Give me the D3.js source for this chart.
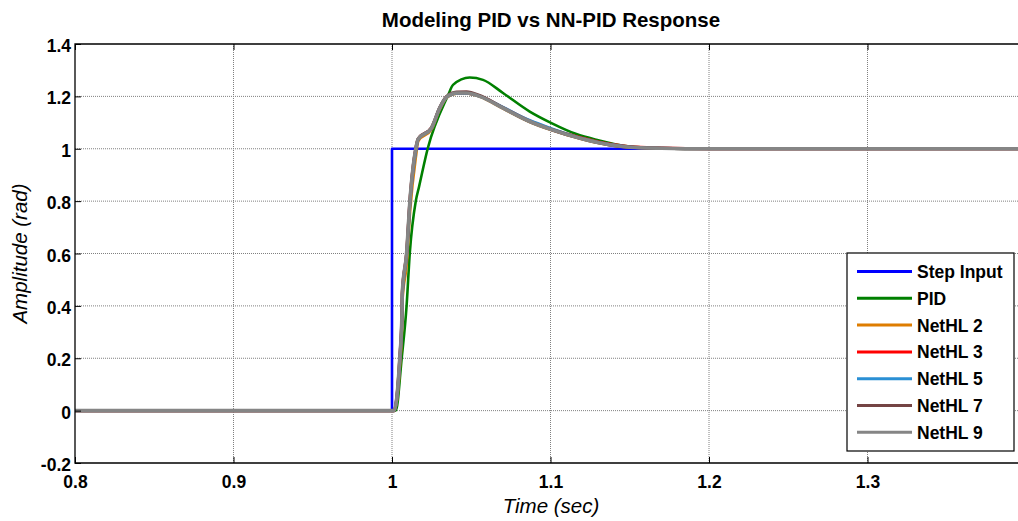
<!DOCTYPE html>
<html>
<head>
<meta charset="utf-8">
<script src="https://cdn.jsdelivr.net/npm/d3@7"></script>
<style>
  body { margin: 0; background: #fff; }
  svg { display: block; font-family: "Liberation Sans", Arial, sans-serif; }
</style>
</head>
<body>
<svg id="chart" width="1018" height="521"></svg>
<script>
// data
var xTicks = [0.8, 0.9, 1.0, 1.1, 1.2, 1.3];
var yTicks = [-0.2, 0, 0.2, 0.4, 0.6, 0.8, 1.0, 1.2, 1.4];

var stepT = [0.8, 1.0, 1.0, 1.4];
var stepY = [0, 0, 1, 1];

var pidT = [0.8, 1.0, 1.0024, 1.0061, 1.0092, 1.0112, 1.015, 1.0171, 1.0225, 1.0353, 1.0385, 1.049, 1.0574, 1.070, 1.0869, 1.1006, 1.1163, 1.129, 1.15, 1.17, 1.19, 1.4];
var pidY = [0, 0, 0, 0.2, 0.4, 0.6, 0.8, 0.856, 1.0, 1.203, 1.244, 1.272, 1.263, 1.213, 1.142, 1.098, 1.056, 1.034, 1.008, 1.002, 1.0, 1.0];

var nnT = [0.8, 1.0, 1.0013, 1.0049, 1.0063, 1.0065, 1.0092, 1.0113, 1.015, 1.0165, 1.0249, 1.0301, 1.0344, 1.0407, 1.047, 1.0554, 1.0701, 1.0869, 1.1006, 1.1205, 1.1373, 1.15, 1.17, 1.2, 1.4];
var net2Y = [0, 0, 0, 0.17, 0.33, 0.42, 0.56, 0.76, 0.97, 1.03, 1.074, 1.152, 1.195, 1.211, 1.212, 1.199, 1.154, 1.103, 1.072, 1.036, 1.014, 1.006, 1.002, 1.0, 1.0];
var net3Y = [0, 0, 0, 0.2, 0.37, 0.45, 0.6, 0.8, 1.0, 1.037, 1.08, 1.156, 1.198, 1.213, 1.213, 1.201, 1.157, 1.106, 1.075, 1.04, 1.018, 1.008, 1.003, 1.0, 1.0];
var net5Y = [0, 0, 0, 0.19, 0.36, 0.44, 0.59, 0.79, 0.99, 1.036, 1.078, 1.156, 1.197, 1.212, 1.212, 1.2, 1.158, 1.108, 1.077, 1.038, 1.016, 1.007, 1.002, 1.0, 1.0];
var net7Y = [0, 0, 0, 0.2, 0.37, 0.45, 0.6, 0.8, 1.0, 1.038, 1.08, 1.157, 1.2, 1.216, 1.217, 1.203, 1.156, 1.104, 1.073, 1.037, 1.015, 1.006, 1.002, 1.0, 1.0];
var net9Y = [0, 0, 0, 0.2, 0.37, 0.45, 0.6, 0.8, 1.0, 1.037, 1.079, 1.155, 1.197, 1.213, 1.213, 1.2, 1.155, 1.104, 1.073, 1.037, 1.015, 1.006, 1.002, 1.0, 1.0];

var seriesNames = ['Step Input', 'PID', 'NetHL 2', 'NetHL 3', 'NetHL 5', 'NetHL 7', 'NetHL 9'];
var seriesColors = ['#0000ff', '#008000', '#de7d00', '#ff0000', '#2a8fd4', '#744444', '#858585'];
var seriesWidths = [2.6, 2.6, 3, 3, 3, 3.2, 3.6];

function zip(t, v) {
    return t.map(function (d, i) { return [d, v[i]]; });
}

var series = [
    { pts: zip(stepT, stepY), curve: d3.curveLinear },
    { pts: zip(pidT, pidY), curve: d3.curveMonotoneX },
    { pts: zip(nnT, net2Y), curve: d3.curveMonotoneX },
    { pts: zip(nnT, net3Y), curve: d3.curveMonotoneX },
    { pts: zip(nnT, net5Y), curve: d3.curveMonotoneX },
    { pts: zip(nnT, net7Y), curve: d3.curveMonotoneX },
    { pts: zip(nnT, net9Y), curve: d3.curveMonotoneX }
];

// matlab style labels: "1", "0", "-0.2"
function tickLabel(d) {
    if (d === 0 || d === 1) return String(d);
    return d.toFixed(1);
}

(function () {
    var svg = d3.select('#chart');
    var plotLeft = 75, plotTop = 44, plotBottom = 463;
    // plot runs a little past the right edge of the figure
    var rightAt14 = 1026;
    var tickFont = 17.5;

    var x = d3.scaleLinear().domain([0.8, 1.4]).range([plotLeft, rightAt14]);
    var y = d3.scaleLinear().domain([-0.2, 1.4]).range([plotBottom, plotTop]);

    svg.append('defs').append('clipPath').attr('id', 'clip')
        .append('rect').attr('x', plotLeft).attr('y', plotTop)
        .attr('width', rightAt14 - plotLeft).attr('height', plotBottom - plotTop);

    // grid
    var grid = svg.append('g');
    grid.selectAll('.gx').data(xTicks.slice(1)).enter().append('line')
        .attr('x1', function (d) { return x(d); }).attr('x2', function (d) { return x(d); })
        .attr('y1', plotTop).attr('y2', plotBottom)
        .attr('stroke', '#808080').attr('stroke-width', 1).attr('stroke-dasharray', '1,1');
    grid.selectAll('.gy').data(yTicks.slice(1, -1)).enter().append('line')
        .attr('y1', function (d) { return y(d); }).attr('y2', function (d) { return y(d); })
        .attr('x1', plotLeft).attr('x2', 1018)
        .attr('stroke', '#808080').attr('stroke-width', 1).attr('stroke-dasharray', '1,1');

    // lines
    var line = d3.line().x(function (d) { return x(d[0]); }).y(function (d) { return y(d[1]); });
    var lines = svg.append('g').attr('clip-path', 'url(#clip)');
    series.forEach(function (s, i) {
        lines.append('path')
            .attr('d', line.curve(s.curve)(s.pts))
            .attr('fill', 'none')
            .attr('stroke', seriesColors[i])
            .attr('stroke-width', seriesWidths[i])
            .attr('stroke-linejoin', 'round');
    });

    // axes (ticks inside)
    var xAxis = d3.axisBottom(x).tickValues(xTicks).tickSize(-6).tickFormat(tickLabel);
    var gx = svg.append('g').attr('transform', 'translate(0,' + plotBottom + ')').call(xAxis);
    var xTop = d3.axisTop(x).tickValues(xTicks).tickSize(-6).tickFormat('');
    var gxt = svg.append('g').attr('transform', 'translate(0,' + plotTop + ')').call(xTop);
    var yAxis = d3.axisLeft(y).tickValues(yTicks).tickSize(-6).tickFormat(tickLabel);
    var gy = svg.append('g').attr('transform', 'translate(' + plotLeft + ',0)').call(yAxis);

    [gx, gxt, gy].forEach(function (g) {
        g.select('.domain').remove();
        g.selectAll('.tick line').attr('stroke', '#000');
        g.selectAll('text').attr('font-size', tickFont).attr('font-weight', 'bold').attr('fill', '#000')
            .attr('font-family', '"Liberation Sans", Arial, sans-serif');
    });
    gx.selectAll('text').attr('y', 25).attr('dy', null);
    gy.selectAll('text').attr('x', -4).attr('y', 7.5).attr('dy', null);

    // box (left, top, bottom)
    svg.append('path')
        .attr('d', 'M1018,' + plotTop + 'H' + plotLeft + 'V' + plotBottom + 'H1018')
        .attr('fill', 'none').attr('stroke', '#000').attr('stroke-width', 1.3);

    // title and labels
    svg.append('text').attr('x', 551).attr('y', 27).attr('text-anchor', 'middle')
        .attr('font-size', 20.5).attr('font-weight', 'bold').text('Modeling PID vs NN-PID Response');
    svg.append('text').attr('x', 551).attr('y', 513).attr('text-anchor', 'middle')
        .attr('font-size', 20.5).attr('font-style', 'italic').text('Time (sec)');
    svg.append('text').attr('transform', 'translate(27,' + ((plotTop + plotBottom) / 2) + ') rotate(-90)')
        .attr('text-anchor', 'middle').attr('font-size', 20.5).attr('font-style', 'italic')
        .text('Amplitude (rad)');

    // legend
    var lg = svg.append('g');
    lg.append('rect').attr('x', 847).attr('y', 253).attr('width', 167).attr('height', 198)
        .attr('fill', '#fff').attr('stroke', '#000').attr('stroke-width', 1.2);
    seriesNames.forEach(function (name, i) {
        var yy = 271.5 + i * 26.8;
        lg.append('line').attr('x1', 857).attr('x2', 912).attr('y1', yy).attr('y2', yy)
            .attr('stroke', seriesColors[i]).attr('stroke-width', 3);
        lg.append('text').attr('x', 917).attr('y', yy + 6.5)
            .attr('font-size', tickFont).attr('font-weight', 'bold').text(name);
    });
})();
</script>
</body>
</html>
